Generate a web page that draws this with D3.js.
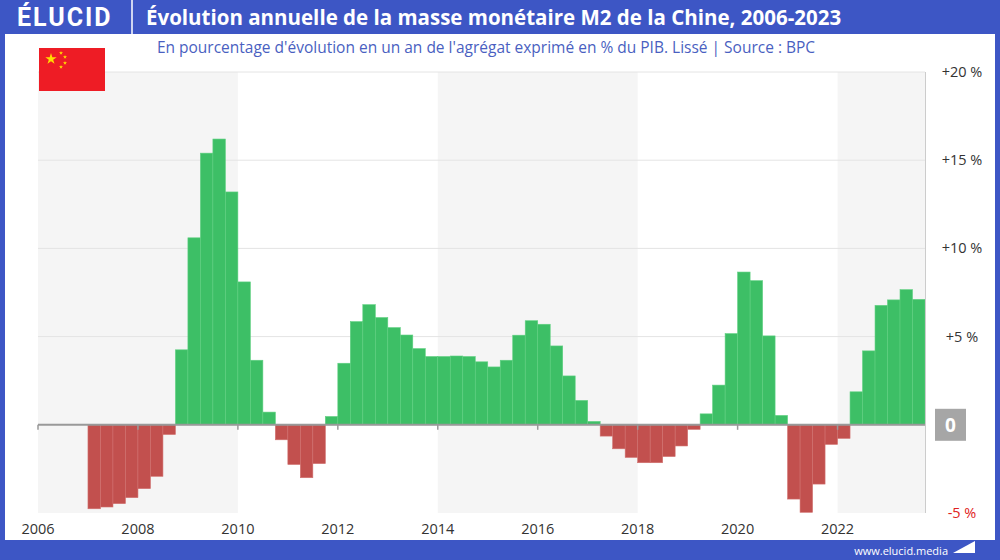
<!DOCTYPE html>
<html>
<head>
<meta charset="utf-8">
<script src="https://cdn.jsdelivr.net/npm/d3@7"></script>
<style>
  body { margin: 0; background: #fff; }
  svg { display: block; font-family: "Open Sans", "Noto Sans", sans-serif; }
</style>
</head>
<body>
<div id="chart"></div>
<script>
// Data: quarterly values, first bar = 2007 Q1
var startYear = 2007;
var values = [
  -4.76, -4.66, -4.47, -4.13,   // 2007
  -3.62, -2.92, -0.55, 4.25,    // 2008
  10.6, 15.4, 16.2, 13.2,       // 2009
  8.1, 3.66, 0.72, -0.85,       // 2010
  -2.25, -3.0, -2.2, 0.47,      // 2011
  3.49, 5.85, 6.81, 6.08,       // 2012
  5.51, 5.09, 4.32, 3.87,       // 2013
  3.87, 3.9, 3.87, 3.57,        // 2014
  3.28, 3.66, 5.08, 5.9,        // 2015
  5.7, 4.47, 2.77, 1.38,        // 2016
  0.19, -0.64, -1.36, -1.85,    // 2017
  -2.15, -2.15, -1.8, -1.2,     // 2018
  -0.26, 0.62, 2.25, 5.17,      // 2019
  8.66, 8.17, 5.04, 0.53,       // 2020
  -4.21, -4.96, -3.36, -1.11,   // 2021
  -0.77, 1.87, 4.19, 6.77,      // 2022
  7.08, 7.66, 7.11              // 2023
];
var yTicks = [-5, 0, 5, 10, 15, 20];
var xTicks = [2006, 2008, 2010, 2012, 2014, 2016, 2018, 2020, 2022];
var bands = [[2006, 2010], [2014, 2018], [2022, 2023.75]];

var W = 1000, H = 560;
var blue = "#3d56c5";
var green = "#3dbf66", red = "#c2504e";

var svg = d3.select("#chart").append("svg").attr("width", W).attr("height", H);

// frame and header
svg.append("rect").attr("width", W).attr("height", H).attr("fill", blue);
svg.append("rect").attr("x", 5).attr("y", 34).attr("width", W - 10).attr("height", 506).attr("fill", "#fff");
svg.append("text").attr("x", 17).attr("y", 26).attr("fill", "#fff")
  .attr("font-size", 25).attr("font-weight", 700).attr("letter-spacing", 2)
  .attr("font-family", "Roboto, sans-serif")
  .text("ÉLUCID");
svg.append("line").attr("x1", 132).attr("x2", 132).attr("y1", 0).attr("y2", 34)
  .attr("stroke", "#fff").attr("stroke-width", 1.5);
svg.append("text").attr("x", 146).attr("y", 25).attr("fill", "#fff")
  .attr("font-size", 20.5).attr("font-weight", 700)
  .text("Évolution annuelle de la masse monétaire M2 de la Chine, 2006-2023");
svg.append("text").attr("x", 486).attr("y", 53).attr("text-anchor", "middle")
  .attr("fill", "#4a5fc1").attr("font-size", 15.5)
  .text("En pourcentage d'évolution en un an de l'agrégat exprimé en % du PIB. Lissé  |  Source : BPC");
svg.append("text").attr("x", 948).attr("y", 555).attr("text-anchor", "end")
  .attr("fill", "#fff").attr("font-size", 11).text("www.elucid.media");
svg.append("path").attr("d", "M953,553 L975,541 L975,553 Z").attr("fill", "#fff");

// scales
var x = d3.scaleLinear().domain([2006, 2023.75]).range([38, 925]);
var y = d3.scaleLinear().domain([-5, 20]).range([513, 72]);

svg.selectAll(".band").data(bands).enter().append("rect")
  .attr("x", function(d) { return x(d[0]); })
  .attr("width", function(d) { return x(d[1]) - x(d[0]); })
  .attr("y", y(20)).attr("height", y(-5) - y(20))
  .attr("fill", "#f5f5f5");

svg.selectAll(".grid").data(yTicks.filter(function(t) { return t > 0; })).enter().append("line")
  .attr("x1", x(2006)).attr("x2", x(2023.75))
  .attr("y1", function(d) { return y(d); }).attr("y2", function(d) { return y(d); })
  .attr("stroke", "#e4e4e4");

// bars
var q = 0.25;
svg.selectAll(".bar").data(values).enter().append("rect")
  .attr("x", function(d, i) { return x(startYear + i * q); })
  .attr("width", x(startYear + q) - x(startYear))
  .attr("y", function(d) { return y(Math.max(0, d)); })
  .attr("height", function(d) { return Math.abs(y(d) - y(0)); })
  .attr("fill", function(d) { return d >= 0 ? green : red; })
  .attr("stroke", function(d) { return d >= 0 ? "#5fd080" : "#d0706e"; })
  .attr("stroke-width", 0.6);

// zero line + x axis
svg.append("line").attr("x1", x(2006)).attr("x2", x(2023.75))
  .attr("y1", y(0)).attr("y2", y(0)).attr("stroke", "#999").attr("stroke-width", 2);
svg.selectAll(".tk").data(xTicks).enter().append("line")
  .attr("x1", function(d) { return x(d); }).attr("x2", function(d) { return x(d); })
  .attr("y1", y(0)).attr("y2", y(0) + 5).attr("stroke", "#999").attr("stroke-width", 1.5);
svg.selectAll(".xl").data(xTicks).enter().append("text")
  .attr("x", function(d) { return x(d); }).attr("y", 534)
  .attr("text-anchor", "middle").attr("font-size", 14.5).attr("fill", "#333")
  .text(function(d) { return d; });

// right axis
svg.append("line").attr("x1", 925.5).attr("x2", 925.5).attr("y1", y(20)).attr("y2", y(-5))
  .attr("stroke", "#ccc");
yTicks.forEach(function(t) {
  if (t === 0) {
    svg.append("rect").attr("x", 935).attr("y", y(0) - 16).attr("width", 31).attr("height", 32).attr("fill", "#a6a6a6");
    svg.append("text").attr("x", 950.5).attr("y", y(0) + 7).attr("text-anchor", "middle")
      .attr("font-size", 19).attr("font-weight", 700).attr("fill", "#fff").text("0");
  } else {
    svg.append("text").attr("x", 962).attr("y", y(t) + 5).attr("text-anchor", "middle")
      .attr("font-size", 14.5).attr("fill", t < 0 ? "#e02020" : "#333")
      .text((t > 0 ? "+" : "") + t + " %");
  }
});

// flag (drawn last so the bands do not cover it)
var flag = svg.append("g").attr("transform", "translate(39,48)");
flag.append("rect").attr("width", 66).attr("height", 43).attr("fill", "#ee1c25");
var star = d3.symbol().type(d3.symbolStar);
flag.append("path").attr("d", star.size(40)()).attr("transform", "translate(12,11)").attr("fill", "#ffde00");
[[22, 5], [26, 9], [26, 15], [22, 19]].forEach(function(p) {
  flag.append("path").attr("d", star.size(5)()).attr("transform", "translate(" + p[0] + "," + p[1] + ")").attr("fill", "#ffde00");
});
</script>
</body>
</html>
